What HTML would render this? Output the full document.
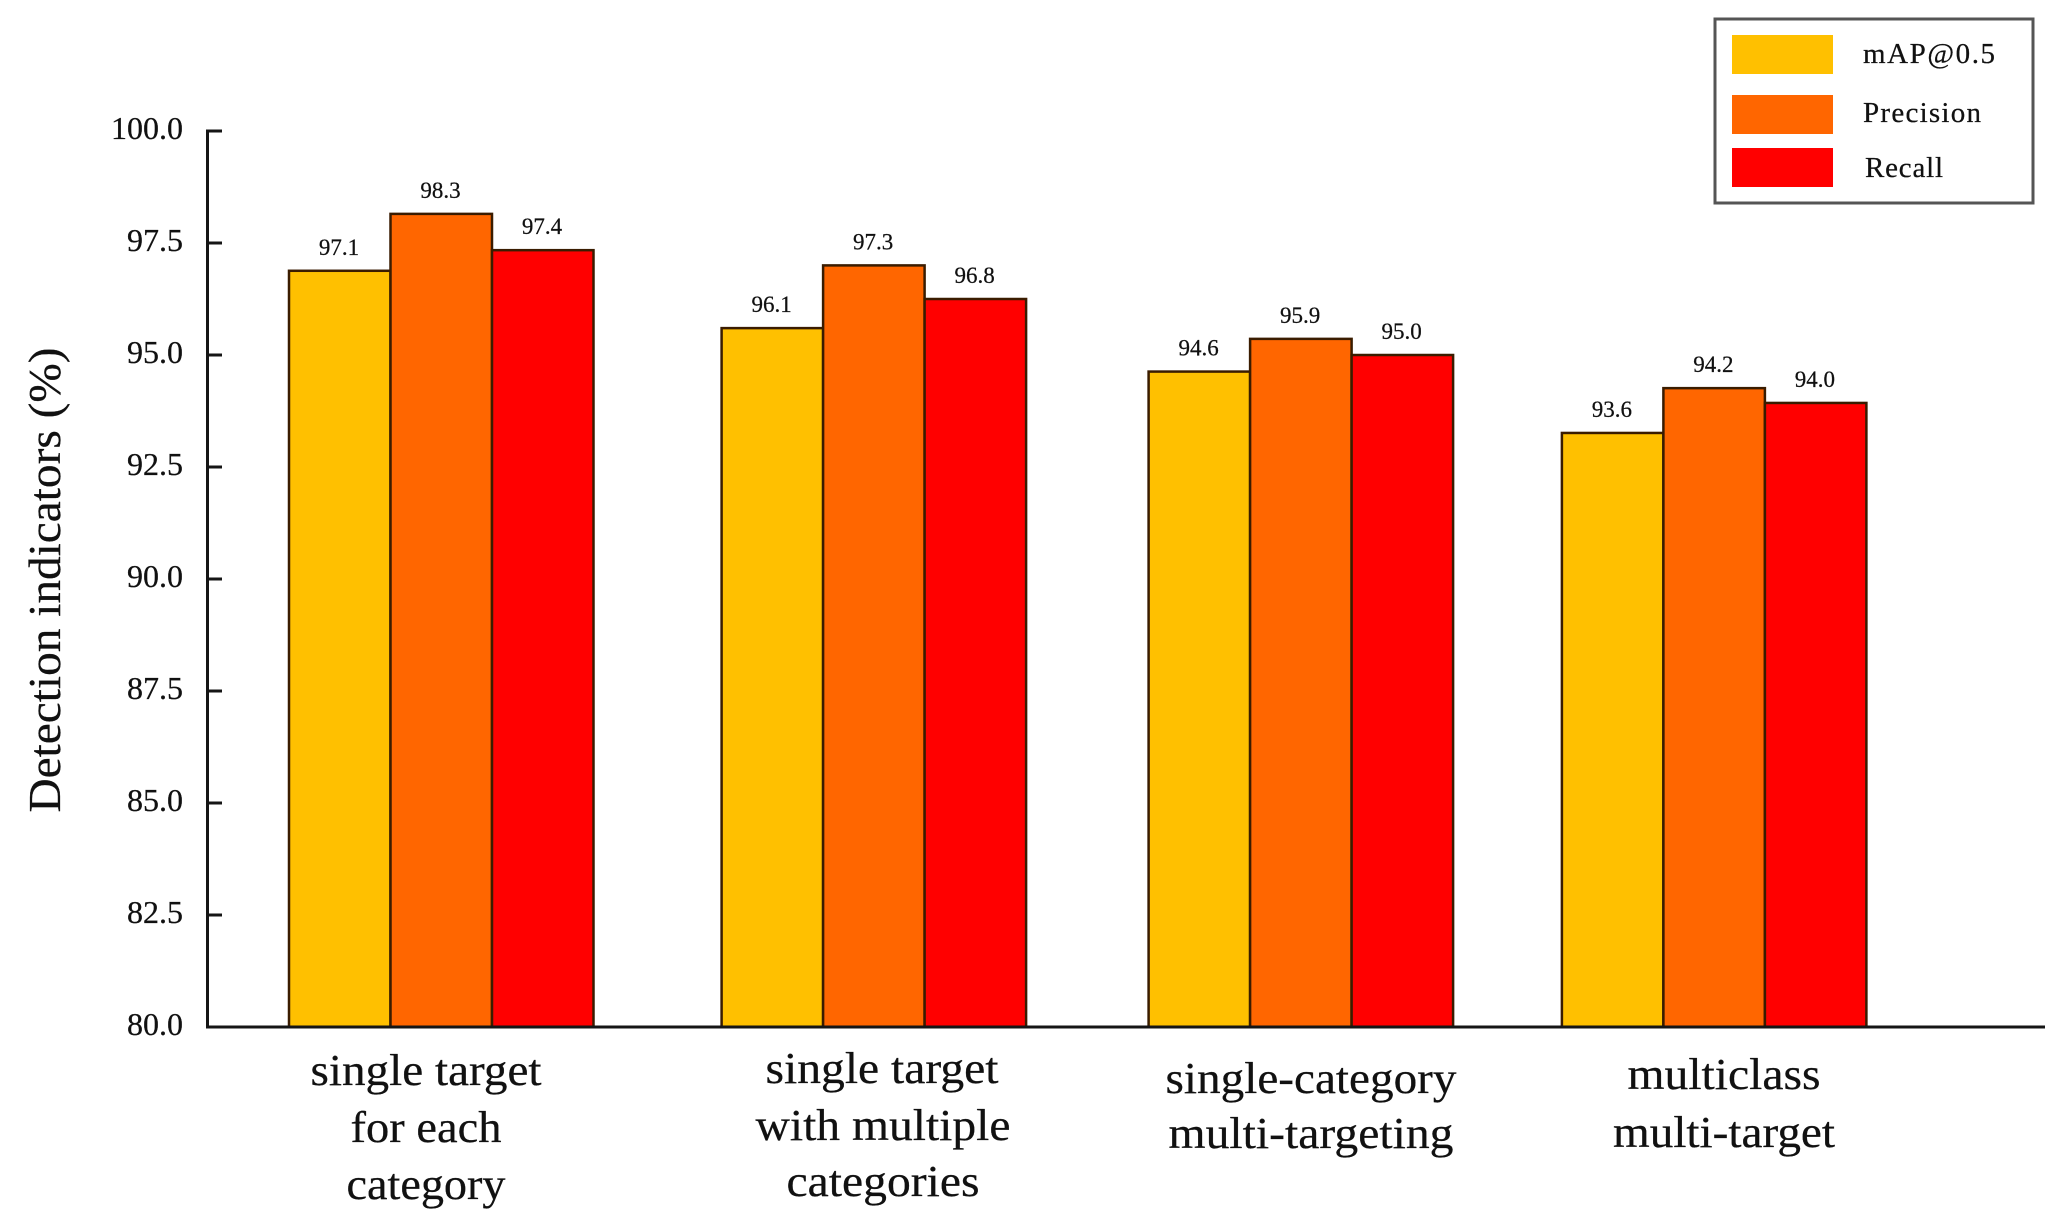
<!DOCTYPE html>
<html lang="en">
<head>
<meta charset="utf-8">
<title>Detection indicators chart</title>
<style>
html,body{margin:0;padding:0;background:#fff;width:2055px;height:1232px;overflow:hidden}
svg{display:block}
text{font-family:"Liberation Serif","Times New Roman",serif;fill:#111;stroke:#111;stroke-width:0.25px}
</style>
</head>
<body>
<svg id="chart" xmlns="http://www.w3.org/2000/svg" width="2055" height="1232" viewBox="0 0 2055 1232">
  <rect x="0" y="0" width="2055" height="1232" fill="#fff"/>
  <g id="bars"></g>
  <g id="value-labels"></g>
  <g id="y-axis"></g>
  <line x1="206" y1="1027" x2="2045" y2="1027" stroke="#151515" stroke-width="3"/>
  <text transform="translate(60,580) rotate(-90)" text-anchor="middle" font-size="46" textLength="465" lengthAdjust="spacingAndGlyphs">Detection indicators (%)</text>

  <g text-anchor="middle">
    <text x="426" y="1085" font-size="44" textLength="231" lengthAdjust="spacingAndGlyphs">single target</text>
    <text x="426" y="1142" font-size="44" textLength="151" lengthAdjust="spacingAndGlyphs">for each</text>
    <text x="426" y="1199" font-size="44" textLength="159" lengthAdjust="spacingAndGlyphs">category</text>
  </g>
  <g text-anchor="middle">
    <text x="882" y="1083" font-size="44" textLength="233" lengthAdjust="spacingAndGlyphs">single target</text>
    <text x="883" y="1140" font-size="44" textLength="255" lengthAdjust="spacingAndGlyphs">with multiple</text>
    <text x="883" y="1196" font-size="44" textLength="193" lengthAdjust="spacingAndGlyphs">categories</text>
  </g>
  <g text-anchor="middle">
    <text x="1311" y="1093" font-size="44" textLength="291" lengthAdjust="spacingAndGlyphs">single-category</text>
    <text x="1311" y="1148" font-size="44" textLength="285" lengthAdjust="spacingAndGlyphs">multi-targeting</text>
  </g>
  <g text-anchor="middle">
    <text x="1724" y="1089" font-size="44" textLength="193" lengthAdjust="spacingAndGlyphs">multiclass</text>
    <text x="1724" y="1147" font-size="44" textLength="222" lengthAdjust="spacingAndGlyphs">multi-target</text>
  </g>

  <g>
    <rect x="1715" y="19" width="318" height="184" fill="#fff" stroke="#555" stroke-width="3"/>
    <rect x="1732" y="35" width="101" height="39" fill="#FFC000"/>
    <text x="1863" y="63" font-size="29" textLength="132" lengthAdjust="spacing">mAP@0.5</text>
    <rect x="1732" y="95" width="101" height="39" fill="#FF6600"/>
    <text x="1863" y="122" font-size="29" textLength="118" lengthAdjust="spacing">Precision</text>
    <rect x="1732" y="148" width="101" height="39" fill="#FF0000"/>
    <text x="1865" y="177" font-size="29" textLength="78" lengthAdjust="spacing">Recall</text>
  </g>
</svg>
<script>
const categories = ["single target for each category", "single target with multiple categories", "single-category multi-targeting", "multiclass multi-target"];
const mapValues = [96.88, 95.6, 94.63, 93.26];
const precisionValues = [98.15, 97.0, 95.36, 94.26];
const recallValues = [97.34, 96.25, 95.0, 93.93];
const mapLabels = ["97.1", "96.1", "94.6", "93.6"];
const precisionLabels = ["98.3", "97.3", "95.9", "94.2"];
const recallLabels = ["97.4", "96.8", "95.0", "94.0"];
const yTickValues = [80, 82.5, 85, 87.5, 90, 92.5, 95, 97.5, 100];
const seriesNames = ["map", "precision", "recall"];
const seriesColors = ["#FFC000", "#FF6600", "#FF0000"];

const NS = "http://www.w3.org/2000/svg";
const allValues = [mapValues, precisionValues, recallValues];
const allLabels = [mapLabels, precisionLabels, recallLabels];
const barWidth = 101.5;

function yScale(v) { return 1027 - (v - 80) * 44.8; }
function groupLeft(i) { return 289 + 424.3 * i + (i === 1 ? 8.3 : i === 2 ? 11 : 0); }
function barLeft(i, s) { return groupLeft(i) + s * barWidth; }

const barsLayer = document.getElementById("bars");
const labelsLayer = document.getElementById("value-labels");
const yAxisLayer = document.getElementById("y-axis");

categories.forEach(function (cat, i) {
  seriesNames.forEach(function (name, s) {
    const v = allValues[s][i];
    const x = barLeft(i, s);
    const y = yScale(v);
    const bar = document.createElementNS(NS, "rect");
    
    
    bar.setAttribute("x", x);
    bar.setAttribute("y", y);
    bar.setAttribute("width", barWidth);
    bar.setAttribute("height", yScale(80) - y);
    bar.setAttribute("fill", seriesColors[s]);
    bar.setAttribute("stroke", "#3a1c00");
    bar.setAttribute("stroke-width", "2.5");
    barsLayer.appendChild(bar);

    const label = document.createElementNS(NS, "text");
    
    
    label.setAttribute("x", x + 50);
    label.setAttribute("y", y - 16);
    label.setAttribute("text-anchor", "middle");
    label.setAttribute("font-size", "23");
    label.textContent = allLabels[s][i];
    labelsLayer.appendChild(label);
  });
});

const axisLine = document.createElementNS(NS, "line");


axisLine.setAttribute("x1", 207.5);
axisLine.setAttribute("x2", 207.5);
axisLine.setAttribute("y1", yScale(100) - 1.5);
axisLine.setAttribute("y2", yScale(80) + 1.5);
axisLine.setAttribute("stroke", "#151515");
axisLine.setAttribute("stroke-width", "3");
yAxisLayer.appendChild(axisLine);

yTickValues.forEach(function (t) {
  const y = yScale(t);
  if (t > 80) {
    const tick = document.createElementNS(NS, "line");
    
    
    tick.setAttribute("x1", 207.5);
    tick.setAttribute("x2", 222);
    tick.setAttribute("y1", y);
    tick.setAttribute("y2", y);
    tick.setAttribute("stroke", "#151515");
    tick.setAttribute("stroke-width", "3");
    yAxisLayer.appendChild(tick);
  }
  const text = document.createElementNS(NS, "text");
  
  
  text.setAttribute("x", 183);
  text.setAttribute("y", y + 8);
  text.setAttribute("text-anchor", "end");
  text.setAttribute("font-size", "32");
  text.textContent = t.toFixed(1);
  yAxisLayer.appendChild(text);
});
</script>
</body>
</html>
